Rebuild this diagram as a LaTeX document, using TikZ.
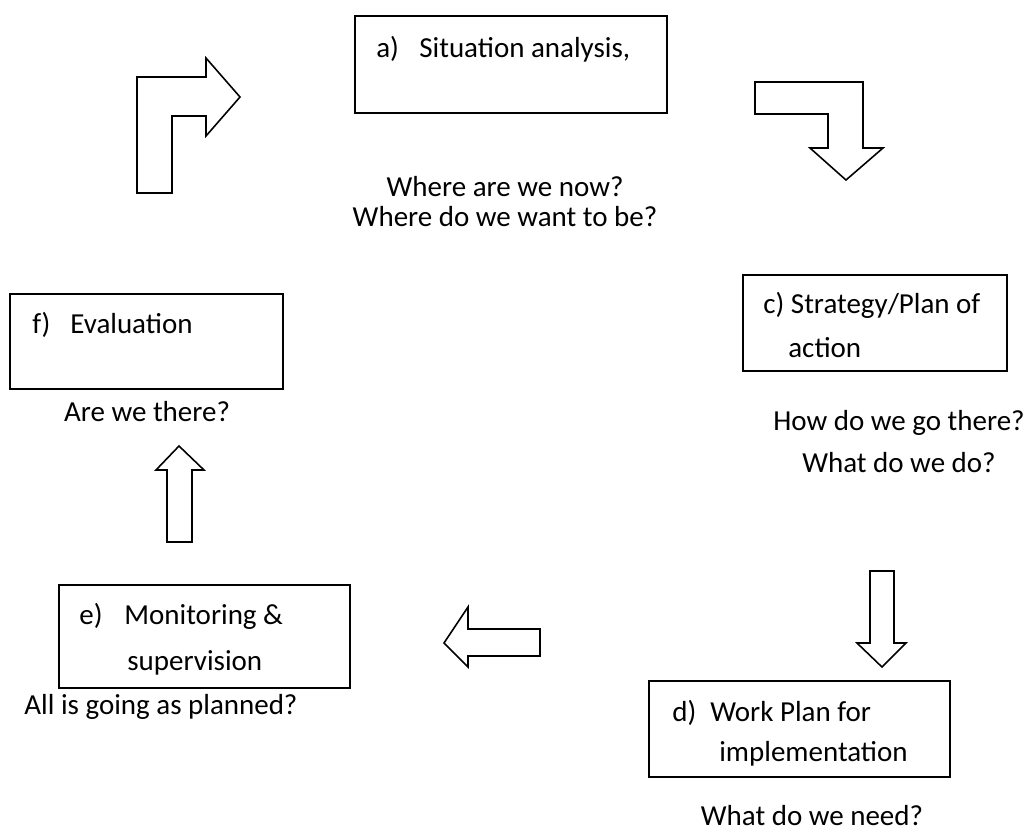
\documentclass[tikz,border=0pt]{standalone}
\usepackage{fontspec}
\setmainfont{Carlito}
\usepackage{tikz}
\usetikzlibrary{calc}

\tikzset{
  stagebox/.style={draw, line width=1pt},
  blockarrow/.style={draw, line width=0.9pt, line join=miter, fill=white},
  txt/.style={inner sep=0pt, anchor=base west},
  ctxt/.style={inner sep=0pt, anchor=base}
}

\begin{document}
\begin{tikzpicture}[x=0.02cm, y=-0.02cm, font=\fontsize{16.5}{20}\selectfont]
		\useasboundingbox (0,0) rectangle (1029,833);
%		boxes
		\draw[stagebox] (355,16) rectangle (667,113);
		\draw[stagebox] (743,275) rectangle (1007,371);
		\draw[stagebox] (649,681) rectangle (950,777);
		\draw[stagebox] (59,585) rectangle (350,688);
		\draw[stagebox] (10,294) rectangle (283,389);
%		a) situation analysis
		\node[txt] (ma) at (376,57) {a)};
		\node[txt] (sa) at (419,57) {Situation analysis,};
		\node[ctxt] (qa1) at (505,196) {Where are we now?};
		\node[ctxt] (qa2) at (505,226) {Where do we want to be?};
%		c) strategy
		\node[txt] (sc1) at (763,313) {c) Strategy/Plan of};
		\node[txt] (sc2) at (788,357) {action};
		\node[ctxt] (qc1) at (899,430) {How do we go there?};
		\node[ctxt] (qc2) at (899,472) {What do we do?};
%		d) work plan
		\node[txt] (md) at (672,721) {d)};
		\node[txt] (sd1) at (710,721) {Work Plan for};
		\node[txt] (sd2) at (719,761) {implementation};
		\node[ctxt] (qd) at (812,825) {What do we need?};
%		e) monitoring
		\node[txt] (me) at (79,624) {e)};
		\node[txt] (se1) at (124,624) {Monitoring \&};
		\node[txt] (se2) at (127,670) {supervision};
		\node[ctxt] (qe) at (161,714) {All is going as planned?};
%		f) evaluation
		\node[txt] (mf) at (32,333) {f)};
		\node[txt] (sf) at (70,333) {Evaluation};
		\node[ctxt] (qf) at (147,421) {Are we there?};
%		block arrows
		\draw[blockarrow] (137,193) -- (137,77) -- (206,77) -- (206,58) -- (240,97)
		  -- (206,136) -- (206,116) -- (172,116) -- (172,193) -- cycle;
		\draw[blockarrow] (755,82) -- (863,82) -- (863,148) -- (883,148) -- (846,180)
		  -- (810,148) -- (828,148) -- (828,114) -- (755,114) -- cycle;
		\draw[blockarrow] (870,571) -- (894,571) -- (894,643) -- (906,643) -- (882,667)
		  -- (857,643) -- (870,643) -- cycle;
		\draw[blockarrow] (540,629) -- (540,656) -- (468,656) -- (468,667) -- (444,643)
		  -- (468,607) -- (468,629) -- cycle;
		\draw[blockarrow] (167,542) -- (167,470) -- (156,470) -- (179,446) -- (204,470)
		  -- (192,470) -- (192,542) -- cycle;
	\end{tikzpicture}
\end{document}
